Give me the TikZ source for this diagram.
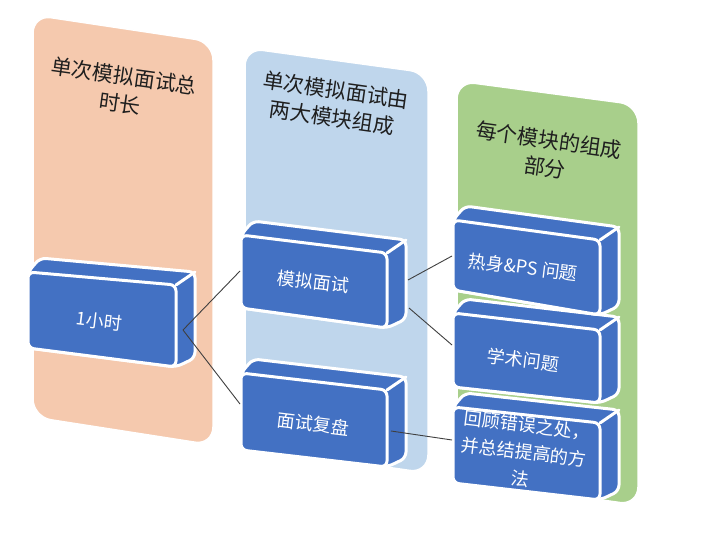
\documentclass[tikz,border=0pt]{standalone}
\usepackage{fontspec}
\newfontfamily\cjk{Noto Sans CJK SC}
\definecolor{peach}{HTML}{F5C9AE}
\definecolor{skyb}{HTML}{BFD6EC}
\definecolor{leaf}{HTML}{A8CF8B}
\definecolor{boxblue}{HTML}{4371C3}
\definecolor{linkc}{HTML}{3F3F3F}
\tikzset{
  panel/.style={rounded corners=18pt, draw=white, line width=1.5pt},
  boxpart/.style={fill=boxblue, draw=white, line width=3pt, rounded corners=6pt, line join=round},
  boxedge/.style={draw=white, line width=3pt, line cap=round},
  head/.style={font=\cjk\fontsize{21}{28}\selectfont, text=black!88, align=center, rotate=-8},
  boxtext/.style={font=\cjk\fontsize{18}{27}\selectfont, text=white, align=center, rotate=-7},
  link/.style={draw=linkc, line width=0.9pt},
}
% #1 L, #2 R, #3 top-left y, #4 top-right y, #5 bottom-left y, #6 bottom-right y
\newcommand\solidbox[6]{%
  \path[boxpart] (#1,#3) -- (#1+12,#3-14) -- (#2+19,#4-13) -- (#2+19,#6-9) -- (#2,#6) -- (#1,#5) -- cycle;
  \draw[boxedge] (#2,#4) -- (#2+19,#4-13);
  \path[boxpart] (#1,#3) -- (#2,#4) -- (#2,#6) -- (#1,#5) -- cycle;
}
\begin{document}
\begin{tikzpicture}[x=1pt,y=-1pt]
\path[use as bounding box, fill=white] (0,0) rectangle (724,548);
% panels
\path[panel, fill=peach] (33,15) -- (213,42) -- (213,445) -- (33,417) -- cycle;
\path[panel, fill=skyb] (245,48) -- (428,73) -- (428,473) -- (245,447) -- cycle;
\path[panel, fill=leaf] (457,81) -- (638,105) -- (638,505) -- (457,480) -- cycle;
% headers
\node[head] (h1) at (122,90) {单次模拟面试总\\时长};
\node[head] (h2) at (334,104) {单次模拟面试由\\两大模块组成};
\node[head] (h3) at (547,154) {每个模块的组成\\部分};
% boxes
\solidbox{28}{176}{272}{285}{348}{367}
\solidbox{241}{387}{235}{253}{308}{328}
\solidbox{241}{387}{373}{390}{450}{467}
\solidbox{453}{600}{407}{423}{483}{500}
\solidbox{453}{600}{313}{330}{387}{403}
\solidbox{453}{600}{220}{240}{290}{315}
% box texts
\node[boxtext] (hour) at (99,321) {1小时};
\node[boxtext] (mock) at (313,282) {模拟面试};
\node[boxtext] (review) at (313,424) {面试复盘};
\node[boxtext] (warm) at (523,267) {热身\&PS 问题};
\node[boxtext] (acad) at (523,360) {学术问题};
\node[boxtext] (fix) at (524,452) {回顾错误之处，\\并总结提高的方\\法};
% connection points
\coordinate (hourR) at (183,330);
\coordinate (mockL) at (240,271);
\coordinate (reviewL) at (240,404);
\coordinate (mockRa) at (408,280);
\coordinate (mockRb) at (409,308);
\coordinate (warmL) at (452,256);
\coordinate (acadL) at (452,345);
\coordinate (reviewR) at (391,431);
\coordinate (fixL) at (452,440);
% connectors
\draw[link] (hourR) -- (mockL);
\draw[link] (hourR) -- (reviewL);
\draw[link] (mockRa) -- (warmL);
\draw[link] (mockRb) -- (acadL);
\draw[link] (reviewR) -- (fixL);
\end{tikzpicture}
\end{document}
